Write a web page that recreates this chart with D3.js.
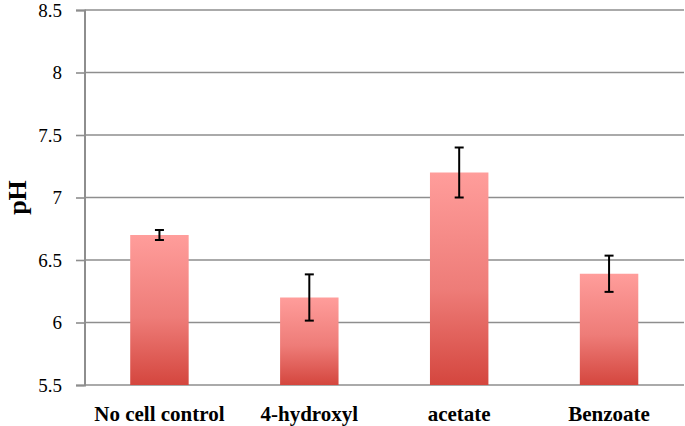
<!DOCTYPE html>
<html><head><meta charset="utf-8">
<script src="https://cdn.jsdelivr.net/npm/d3@7"></script>
<style>body{margin:0;background:#fff}svg{display:block}</style>
</head><body>
<svg id="c" width="685" height="426"></svg>
<script>
const categories = ["No cell control", "4-hydroxyl", "acetate", "Benzoate"];
const values = [6.70, 6.20, 7.20, 6.39];
const errors = [0.04, 0.185, 0.20, 0.145];
const yTicks = [5.5, 6, 6.5, 7, 7.5, 8, 8.5];

const svg = d3.select("#c");
const m = {left: 84.5, right: 684, top: 10, bottom: 385};
const x = d3.scaleBand().domain(categories).range([m.left, m.right]).paddingInner(0.61).paddingOuter(0.305);
const y = d3.scaleLinear().domain([5.5, 8.5]).range([m.bottom, m.top]);
const FONT = "'Liberation Serif', 'Times New Roman', serif";

const defs = svg.append("defs");
const g = defs.append("linearGradient").attr("id","bg").attr("x1",0).attr("y1",0).attr("x2",0).attr("y2",1);
g.append("stop").attr("offset","0%").attr("stop-color","#ff9d9b");
g.append("stop").attr("offset","55%").attr("stop-color","#ee7c78");
g.append("stop").attr("offset","100%").attr("stop-color","#d4463e");

// gridlines
svg.append("g").selectAll("line").data(yTicks).join("line")
  .attr("x1", m.left).attr("x2", m.right)
  .attr("y1", d => y(d)).attr("y2", d => y(d))
  .attr("stroke", "#8e8e8e").attr("stroke-width", 1.6);

// y axis
const ya = svg.append("g").attr("transform", `translate(${m.left},0)`)
  .call(d3.axisLeft(y).tickValues(yTicks).tickSize(8.5).tickPadding(14).tickFormat(d3.format("")));
ya.select(".domain").attr("stroke","#8e8e8e").attr("stroke-width",2);
ya.selectAll(".tick line").attr("stroke","#8e8e8e").attr("stroke-width",1.6);
ya.selectAll(".tick text").attr("font-family",FONT).attr("font-size",19).attr("fill","#000");

// bars
svg.append("g").selectAll("rect").data(categories).join("rect")
  .attr("x", d => x(d)).attr("width", x.bandwidth())
  .attr("y", (d,i) => y(values[i])).attr("height", (d,i) => y(5.5) - y(values[i]))
  .attr("fill", "url(#bg)");

// error bars
const eb = svg.append("g").attr("stroke","#000").attr("stroke-width",2);
categories.forEach((c,i) => {
  const cx = x(c) + x.bandwidth()/2;
  eb.append("line").attr("x1",cx).attr("x2",cx).attr("y1",y(values[i]+errors[i])).attr("y2",y(values[i]-errors[i]));
  [values[i]+errors[i], values[i]-errors[i]].forEach(v => {
    eb.append("line").attr("x1",cx-4.5).attr("x2",cx+4.5).attr("y1",y(v)).attr("y2",y(v));
  });
});

// x labels
svg.append("g").selectAll("text").data(categories).join("text")
  .attr("x", d => x(d) + x.bandwidth()/2).attr("y", 421)
  .attr("text-anchor","middle").attr("font-family",FONT)
  .attr("font-weight","bold").attr("font-size",21).text(d => d);

// y title
svg.append("text").attr("transform","translate(26,197.5) rotate(-90)")
  .attr("text-anchor","middle").attr("font-family",FONT)
  .attr("font-weight","bold").attr("font-size",26).text("pH");
</script>
</body></html>
